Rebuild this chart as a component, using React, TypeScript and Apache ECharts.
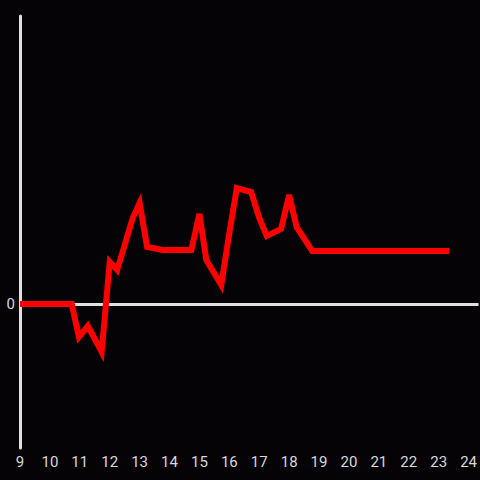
import React, { useEffect, useRef } from "react";
import * as echarts from "echarts";

const xValues: number[] = [9.0, 10.73, 10.97, 11.27, 11.73, 12.0, 12.25, 12.77, 13.0, 13.25, 13.77, 14.73, 15.0, 15.23, 15.73, 16.0, 16.25, 16.73, 17.0, 17.25, 17.73, 18.0, 18.25, 18.77, 23.35];
const yValues: number[] = [0, 0, -33, -22, -48, 42, 34, 86, 101, 57, 54, 54, 90, 44, 19, 71, 116, 112, 86, 68, 75, 109, 77, 53, 53];
const xTicks: number[] = [9, 10, 11, 12, 13, 14, 15, 16, 17, 18, 19, 20, 21, 22, 23, 24];
const yTicks: number[] = [0];

export default function App() {
  const ref = useRef<HTMLDivElement>(null);
  useEffect(() => {
    if (!ref.current) return;
    const chart = echarts.init(ref.current, undefined, { renderer: "svg", width: 480, height: 480 });
    const data = xValues.map((x, i) => [x, yValues[i]]);
    chart.setOption({
      animation: false,
      backgroundColor: "#050306",
      grid: { left: 20, right: 0, top: 16, bottom: 32 },
      xAxis: {
        type: "value",
        min: 9,
        max: 24 + 1 / 3,
        axisLine: { show: false },
        axisTick: { show: false },
        splitLine: { show: false },
        axisLabel: {
          color: "#d8d8d8",
          fontSize: 15,
          fontFamily: "Roboto",
          margin: 6,
          customValues: xTicks,
          formatter: (v: number) => String(v),
        },
      },
      yAxis: {
        type: "value",
        min: -144,
        max: 288,
        axisLine: { show: true, onZero: false, lineStyle: { color: "#e0e0e0", width: 3 } },
        axisTick: { show: false },
        splitLine: { show: false },
        axisLabel: {
          color: "#d8d8d8",
          fontSize: 15,
          fontFamily: "Roboto",
          margin: 5,
          customValues: yTicks,
          formatter: (v: number) => String(v),
        },
      },
      series: [
        {
          type: "line",
          data,
          symbol: "none",
          lineStyle: { color: "#ff0000", width: 6, join: "miter", cap: "butt" },
          markLine: {
            silent: true,
            symbol: "none",
            label: { show: false },
            lineStyle: { color: "#e0e0e0", width: 3, type: "solid" },
            data: [{ yAxis: 0 }],
            z: 1,
          },
          z: 3,
        },
      ],
    });
    return () => chart.dispose();
  }, []);
  return <div ref={ref} style={{ width: 480, height: 480, position: "fixed", left: 0, top: 0 }} />;
}
